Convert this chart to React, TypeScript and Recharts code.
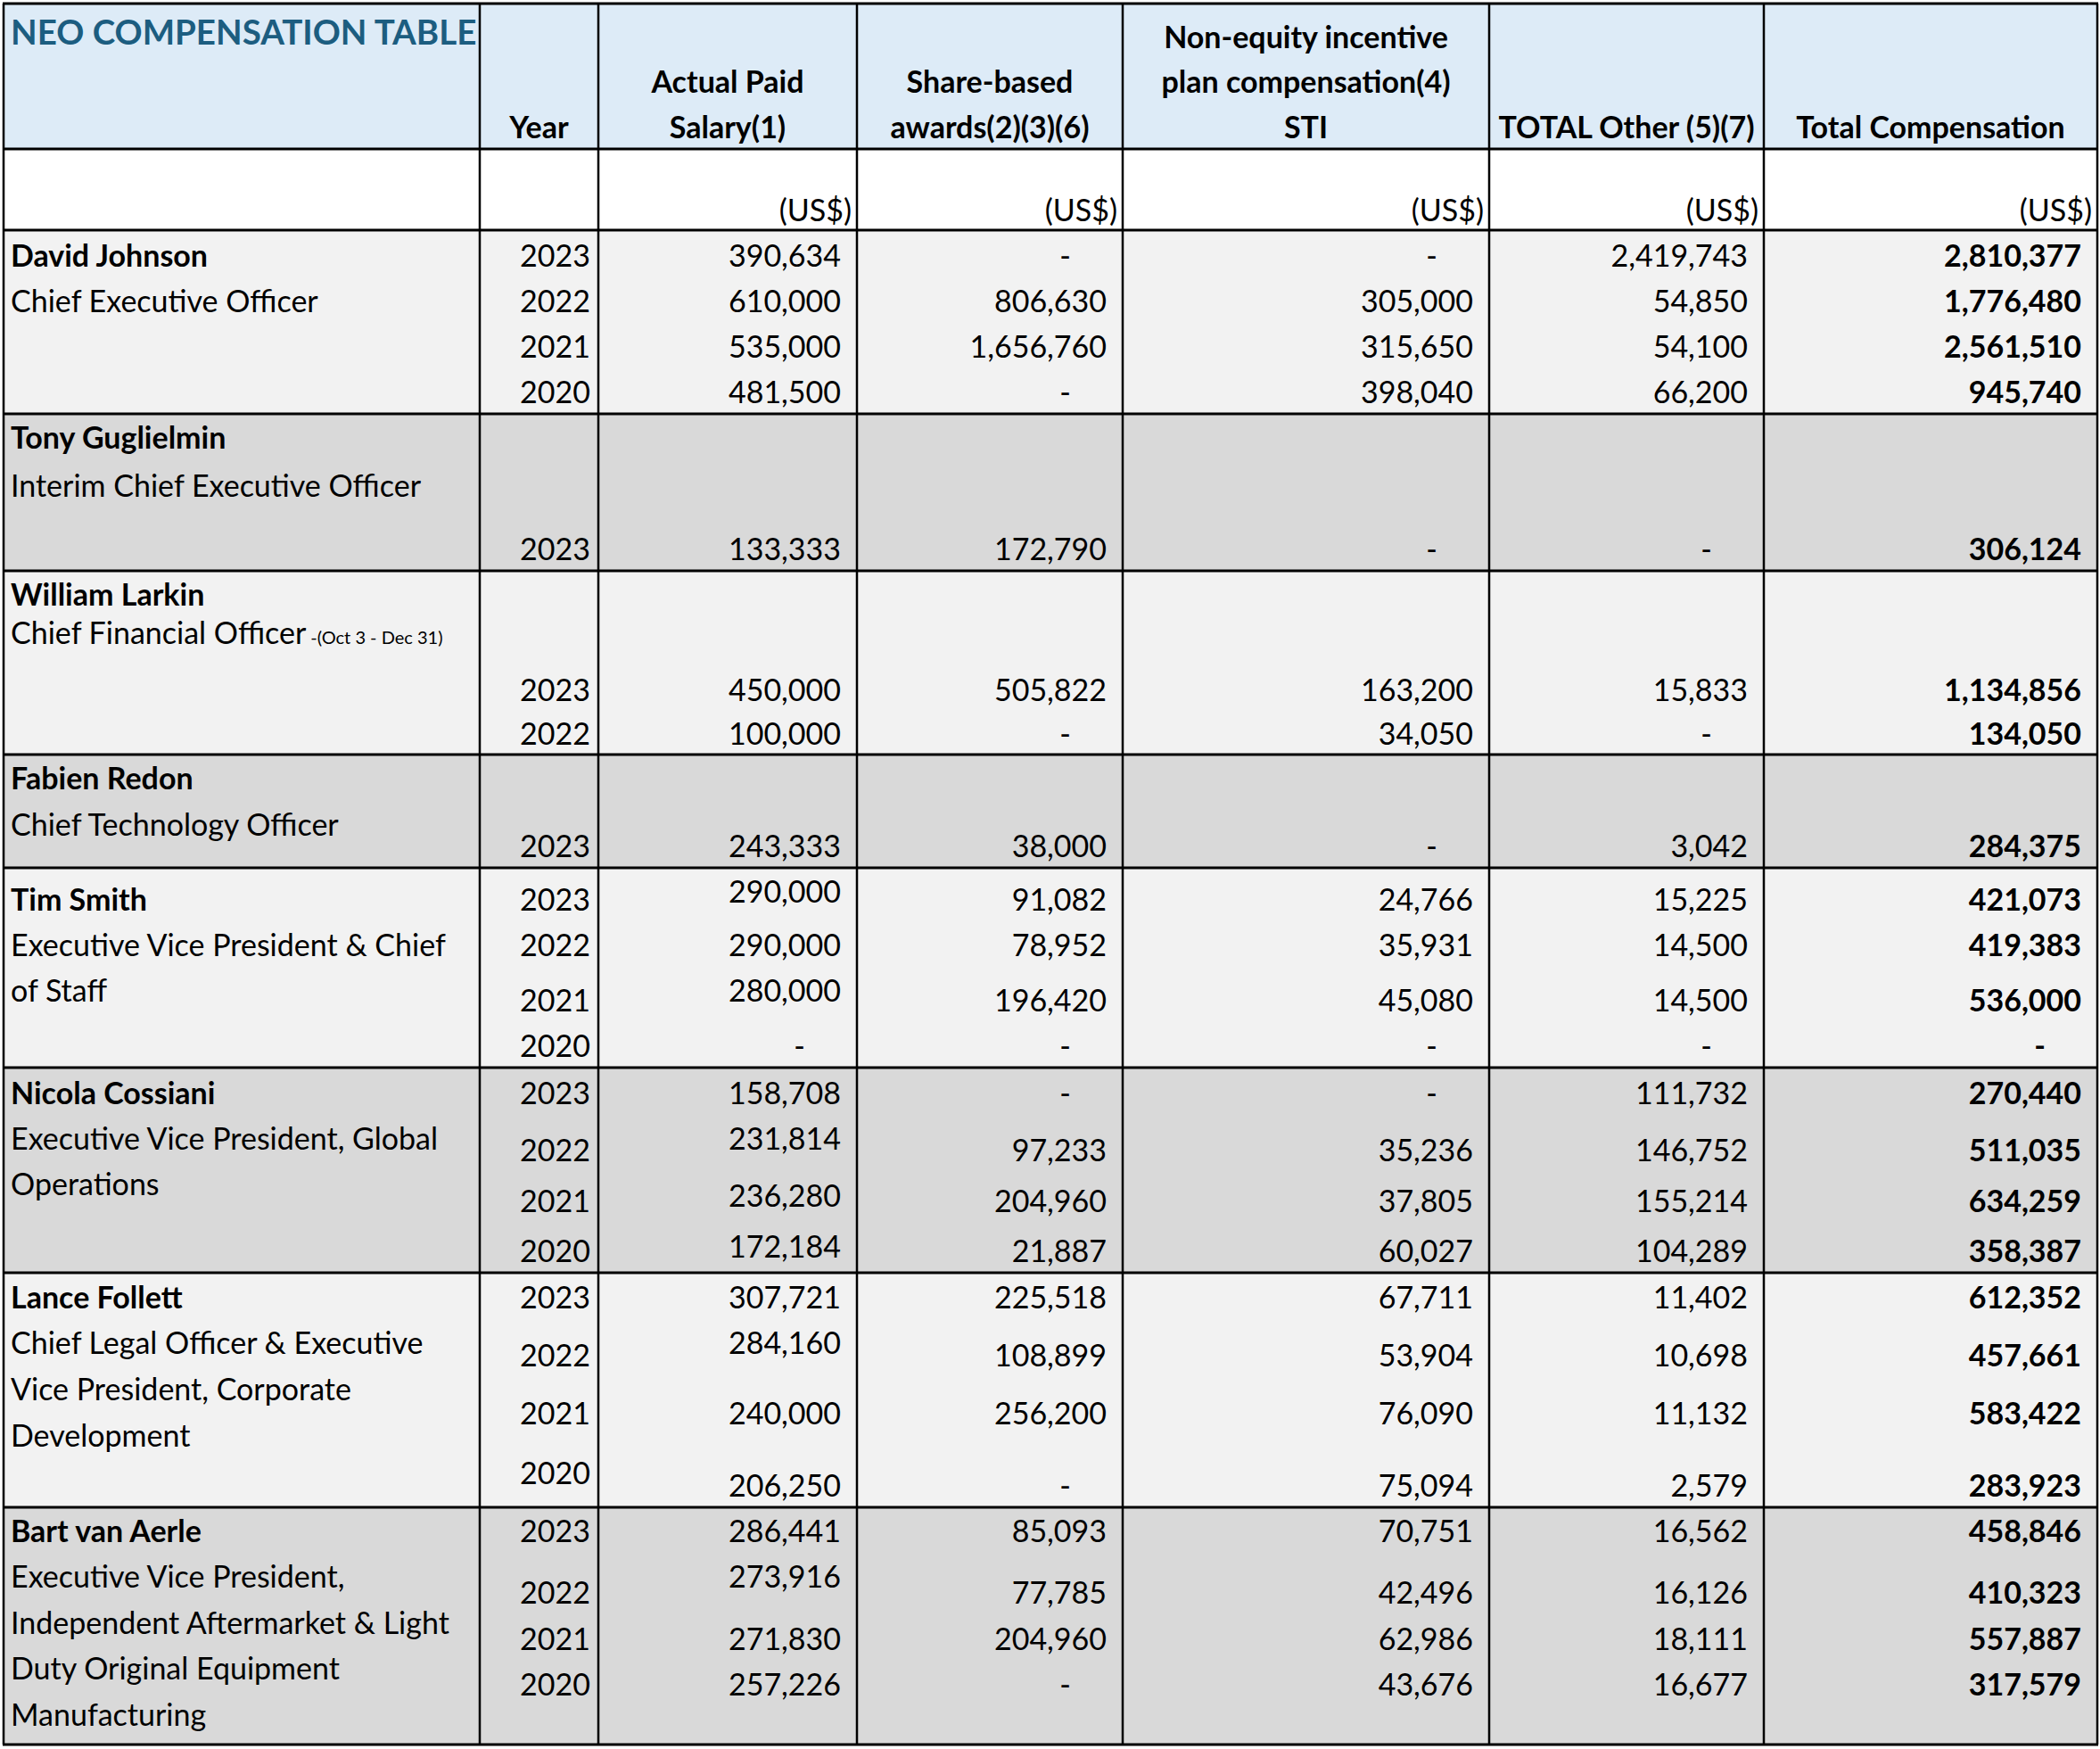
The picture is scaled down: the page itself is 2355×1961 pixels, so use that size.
import { ScatterChart, Scatter, XAxis, YAxis, ReferenceArea, ReferenceLine } from 'recharts'

const W = 2355
const H = 1961
const FONT = 'Lato, "Noto Sans", sans-serif'

// ---- data ----
const TABLE_TITLE = 'NEO COMPENSATION TABLE'
const HEADERS = [
  ['Year'],
  ['Actual Paid', 'Salary(1)'],
  ['Share-based', 'awards(2)(3)(6)'],
  ['Non-equity incentive', 'plan compensation(4)', 'STI'],
  ['TOTAL Other (5)(7)'],
  ['Total Compensation'],
]
const UNIT = '(US$)'

const EXECUTIVES = [
  'David Johnson', 'Tony Guglielmin', 'William Larkin', 'Fabien Redon',
  'Tim Smith', 'Nicola Cossiani', 'Lance Follett', 'Bart van Aerle',
]
const TITLES = [
  ['Chief Executive Officer'],
  ['Interim Chief Executive Officer'],
  ['Chief Financial Officer'],
  ['Chief Technology Officer'],
  ['Executive Vice President & Chief', 'of Staff'],
  ['Executive Vice President, Global', 'Operations'],
  ['Chief Legal Officer & Executive', 'Vice President, Corporate', 'Development'],
  ['Executive Vice President,', 'Independent Aftermarket & Light', 'Duty Original Equipment', 'Manufacturing'],
]
const TITLE_NOTE = '-(Oct 3 - Dec 31)' // William Larkin

const YEARS = [
  [2023, 2022, 2021, 2020], [2023], [2023, 2022], [2023],
  [2023, 2022, 2021, 2020], [2023, 2022, 2021, 2020], [2023, 2022, 2021, 2020], [2023, 2022, 2021, 2020],
]
const SALARY = [
  [390634, 610000, 535000, 481500], [133333], [450000, 100000], [243333],
  [290000, 290000, 280000, null], [158708, 231814, 236280, 172184],
  [307721, 284160, 240000, 206250], [286441, 273916, 271830, 257226],
]
const SHARE_AWARDS = [
  [null, 806630, 1656760, null], [172790], [505822, null], [38000],
  [91082, 78952, 196420, null], [null, 97233, 204960, 21887],
  [225518, 108899, 256200, null], [85093, 77785, 204960, null],
]
const NON_EQUITY = [
  [null, 305000, 315650, 398040], [null], [163200, 34050], [null],
  [24766, 35931, 45080, null], [null, 35236, 37805, 60027],
  [67711, 53904, 76090, 75094], [70751, 42496, 62986, 43676],
]
const OTHER = [
  [2419743, 54850, 54100, 66200], [null], [15833, null], [3042],
  [15225, 14500, 14500, null], [111732, 146752, 155214, 104289],
  [11402, 10698, 11132, 2579], [16562, 16126, 18111, 16677],
]
const TOTAL = [
  [2810377, 1776480, 2561510, 945740], [306124], [1134856, 134050], [284375],
  [421073, 419383, 536000, null], [270440, 511035, 634259, 358387],
  [612352, 457661, 583422, 283923], [458846, 410323, 557887, 317579],
]

// ---- layout (table grid, in page pixels) ----
const COL_EDGES = [4, 538, 671, 961, 1259, 1670, 1978, 2352]
const ROW_LINES = [4, 167, 258, 464, 640, 846, 973, 1197, 1427, 1690, 1956]
const HEADER_LINE_Y = [42, 92, 143]
const UNIT_Y = 236
const NAME_Y = [287, 491, 667, 873, 1009, 1226, 1455, 1717]
const TITLE_Y = [[338], [545], [710], [925], [1060, 1111], [1277, 1328], [1506, 1558, 1610], [1768, 1820, 1871, 1923]]
const ROW_Y = [
  [287, 338, 389, 440], [616], [774, 823], [949],
  [1009, 1060, 1122, 1173], [1226, 1290, 1347, 1403], [1455, 1520, 1585, 1666], [1717, 1786, 1838, 1889],
]
const YEAR_Y = ROW_Y.map((g, i) => (i === 6 ? [1455, 1520, 1585, 1652] : g))
const SALARY_Y = ROW_Y.map((g, i) => {
  if (i === 4) return [1000, 1060, 1111, 1173]
  if (i === 5) return [1226, 1277, 1341, 1398]
  if (i === 6) return [1455, 1506, 1585, 1666]
  if (i === 7) return [1717, 1768, 1838, 1889]
  return g
})
const GROUP_FILL = ['#f2f2f2', '#d9d9d9']

const fmt = (v: number | null) => (v == null ? '-' : v.toLocaleString('en-US'))

type TextCell = {
  x: number; y: number; text: string
  anchor: 'start' | 'middle' | 'end'
  weight?: number; size: number; color?: string; note?: string
}

function buildCells(): TextCell[] {
  const cells: TextCell[] = []
  cells.push({ x: 12, y: 36, text: TABLE_TITLE, anchor: 'start', weight: 700, size: 38.5, color: '#1c5d80' })
  HEADERS.forEach((lines, c) => {
    const mid = (COL_EDGES[c + 1] + COL_EDGES[c + 2]) / 2
    const start = HEADER_LINE_Y.length - lines.length
    lines.forEach((t, k) => cells.push({ x: mid, y: HEADER_LINE_Y[start + k], text: t, anchor: 'middle', weight: 700, size: 34 }))
    if (c > 0) cells.push({ x: COL_EDGES[c + 2] - 6, y: UNIT_Y, text: UNIT, anchor: 'end', size: 34 })
  })
  const series = [SALARY, SHARE_AWARDS, NON_EQUITY, OTHER, TOTAL]
  EXECUTIVES.forEach((name, g) => {
    cells.push({ x: 12, y: NAME_Y[g], text: name, anchor: 'start', weight: 700, size: 34 })
    TITLES[g].forEach((t, k) => cells.push({
      x: 12, y: TITLE_Y[g][k], text: t, anchor: 'start', size: 34,
      note: g === 2 && k === 0 ? TITLE_NOTE : undefined,
    }))
    YEARS[g].forEach((yr, r) => {
      cells.push({ x: COL_EDGES[2] - 9, y: YEAR_Y[g][r], text: String(yr), anchor: 'end', size: 34 })
      series.forEach((s, si) => {
        const v = s[g][r]
        const right = COL_EDGES[si + 3] - 18 - (v == null ? 40 : 0)
        const y = si === 0 ? SALARY_Y[g][r] : ROW_Y[g][r]
        cells.push({ x: right, y, text: fmt(v), anchor: 'end', size: 34, weight: si === 4 ? 700 : 400 })
      })
    })
  })
  return cells
}

const CELLS = buildCells()

// y in the cell table is the visual middle of the line; move it to the baseline
function CellText(props: any) {
  const { cx, cy, payload } = props
  const d = payload as TextCell
  return (
    <text
      x={cx} y={cy + d.size * 0.36} textAnchor={d.anchor}
      fontFamily={FONT} fontSize={d.size} fontWeight={d.weight ?? 400}
      fill={d.color ?? '#000'}
    >
      {d.text}
      {d.note ? <tspan fontSize={20} dx={5}>{d.note}</tspan> : null}
    </text>
  )
}

export default function App() {
  return (
    <div style={{ position: 'absolute', left: 0, top: 0, width: W, height: H, background: '#fff' }}>
      <ScatterChart width={W} height={H} margin={{ top: 0, right: 0, bottom: 0, left: 0 }}>
        <XAxis type="number" dataKey="x" domain={[0, W]} hide height={0} />
        <YAxis type="number" dataKey="y" domain={[0, H]} reversed hide width={0} />
        <ReferenceArea x1={COL_EDGES[0]} x2={COL_EDGES[7]} y1={ROW_LINES[0]} y2={ROW_LINES[1]} fill="#ddebf7" fillOpacity={1} />
        {EXECUTIVES.map((n, g) => (
          <ReferenceArea key={n} x1={COL_EDGES[0]} x2={COL_EDGES[7]} y1={ROW_LINES[g + 2]} y2={ROW_LINES[g + 3]}
            fill={GROUP_FILL[g % 2]} fillOpacity={1} />
        ))}
        {ROW_LINES.map(y => (
          <ReferenceLine key={'h' + y} segment={[{ x: COL_EDGES[0] - 1, y }, { x: COL_EDGES[7] + 1, y }]} stroke="#000" strokeWidth={3} />
        ))}
        {COL_EDGES.map(x => (
          <ReferenceLine key={'v' + x} segment={[{ x, y: ROW_LINES[0] }, { x, y: ROW_LINES[10] }]} stroke="#000" strokeWidth={2.5} />
        ))}
        <Scatter data={CELLS} isAnimationActive={false} shape={(p: any) => <CellText {...p} />} />
      </ScatterChart>
    </div>
  )
}
